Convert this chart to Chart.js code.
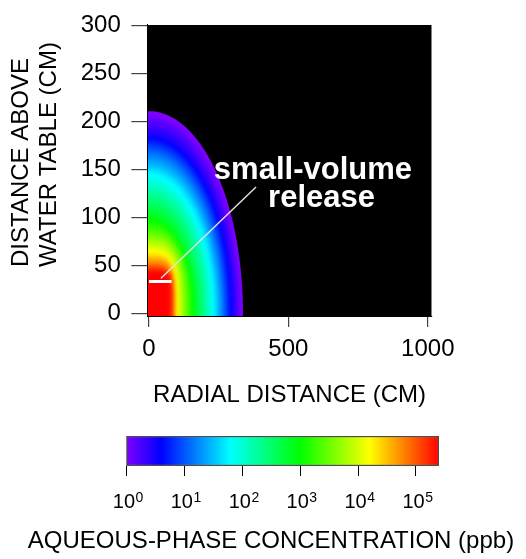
<!DOCTYPE html>
<html><head><meta charset="utf-8">
<script src="https://cdn.jsdelivr.net/npm/chart.js@4.4.1/dist/chart.umd.min.js"></script>
<style>
html,body{margin:0;padding:0;background:#fff;width:526px;height:559px;overflow:hidden}
#c1{position:absolute;left:0;top:0}
#c2{position:absolute;left:16px;top:420px}
</style></head><body>
<canvas id="c1" width="526" height="420"></canvas>
<canvas id="c2" width="510" height="139"></canvas>
<script>
// ---------- data ----------
const xTicks = [0, 500, 1000];
const yTicks = [0, 50, 100, 150, 200, 250, 300];
const xRange = [-6, 1014];
const yRange = [-2.7, 301];

// concentration bands (log10 ppb) and their extents along the radial (x) and vertical (y) axes, cm
const ringLogConc = [0.0,0.2,0.4,0.6,0.8,1.0,1.2,1.4,1.6,1.8,2.0,2.2,2.4,2.6,2.8,3.0,3.2,3.4,3.6,3.8,4.0,4.2,4.4,4.6,4.8,5.0,5.2,5.4];
const ringRadiusX = [337,326,312,298,287,277,267,257,246,236,224,212,199,187,174,162,152,142,132,122,113,105,98,92,87,83,80,77];
const ringRadiusY = [211,204,195,186,180,174,168,161,154,148,140,132,124,116,108,100,94,88,82,77,72,67,62,58,54,50,47,44];
const ringShape   = [2,2,2,2,2,2,2,2,2,2,2,2,2,2,2,2,2.2,2.4,2.6,2.8,3,3.2,3.5,3.8,4.2,4.6,5,6];

const releaseX = [0, 81];
const releaseY = [33.2, 33.2];
const leaderX = [43, 384];
const leaderY = [36.7, 131.8];
const noteLines = ['small-volume', 'release'];
const noteX = [588, 619];
const noteY = [140.0, 111.5];

const yTitleLines = ['DISTANCE ABOVE', 'WATER TABLE (CM)'];
const xTitle = 'RADIAL DISTANCE (CM)';
const cbarTitle = 'AQUEOUS-PHASE CONCENTRATION (ppb)';
const cbarTicks = [1, 10, 100, 1000, 10000, 100000];
const cbarRange = [1, 250000];

// ---------- helpers ----------
const FONT = '"Liberation Sans", Arial, Helvetica, sans-serif';
Chart.defaults.font.family = FONT;
const Lmax = Math.log10(cbarRange[1]);
function colorFor(L){
  const t = Math.max(0, Math.min(1, L / Lmax));
  return 'hsl(' + (270 * (1 - t)).toFixed(2) + ',100%,50%)';
}

function ringPath(ctx, a, cx, cy, rx, ry, p, ext){
  ctx.beginPath();
  ctx.moveTo(a.left - ext, a.bottom + ext);
  ctx.lineTo(a.left - ext, cy - ry);
  ctx.lineTo(cx, cy - ry);
  const N = 120;
  for (let k = N; k >= 0; k--){
    const t = k / N * Math.PI / 2;
    ctx.lineTo(cx + rx * Math.pow(Math.cos(t), 2 / p), cy - ry * Math.pow(Math.sin(t), 2 / p));
  }
  ctx.lineTo(cx + rx, a.bottom + ext);
  ctx.closePath();
}

const fieldPlugin = {
  id: 'field',
  beforeDraw(chart){
    const {ctx, chartArea:a, scales:{x, y}} = chart;
    ctx.save();
    ctx.beginPath(); ctx.rect(a.left, a.top, a.right - a.left, a.bottom - a.top); ctx.clip();
    ctx.fillStyle = '#000';
    ctx.fillRect(a.left, a.top, a.right - a.left, a.bottom - a.top);
    const cx = x.getPixelForValue(0), cy = y.getPixelForValue(0);
    const geo = ringLogConc.map((L, i) => ({
      rx: x.getPixelForValue(ringRadiusX[i]) - cx,
      ry: cy - y.getPixelForValue(ringRadiusY[i]),
      p: ringShape[i], c: colorFor(L)
    }));
    // outermost band: crisp edge against the black background
    ringPath(ctx, a, cx, cy, geo[0].rx, geo[0].ry, geo[0].p, 12);
    ctx.fillStyle = geo[0].c; ctx.fill();
    ctx.clip();
    ctx.filter = 'blur(2.2px)';
    for (let i = 1; i < geo.length; i++){
      ringPath(ctx, a, cx, cy, geo[i].rx, geo[i].ry, geo[i].p, 12);
      ctx.fillStyle = geo[i].c; ctx.fill();
    }
    ctx.filter = 'none';
    ctx.restore();
  }
};

const notePlugin = {
  id: 'note',
  afterDatasetsDraw(chart){
    const {ctx, scales:{x, y}} = chart;
    ctx.save();
    ctx.font = 'bold 31px ' + FONT;
    ctx.fillStyle = '#fff';
    ctx.textAlign = 'center';
    ctx.textBaseline = 'alphabetic';
    noteLines.forEach((s, i) => ctx.fillText(s, x.getPixelForValue(noteX[i]), y.getPixelForValue(noteY[i])));
    ctx.restore();
  }
};

const yTitlePlugin = {
  id: 'ytitle',
  afterDraw(chart){
    const ctx = chart.ctx;
    ctx.save();
    ctx.font = '24px ' + FONT;
    ctx.fillStyle = '#000';
    ctx.textAlign = 'left';
    ctx.textBaseline = 'middle';
    const xs = [21.7, 49], start = 267;
    yTitleLines.forEach((s, i) => {
      ctx.save(); ctx.translate(xs[i], start); ctx.rotate(-Math.PI / 2); ctx.fillText(s, 0, 0); ctx.restore();
    });
    ctx.restore();
  }
};

const cbarLabelPlugin = {
  id: 'cbarLabels',
  afterDraw(chart){
    const ctx = chart.ctx, xs = chart.scales.x;
    const baseY = 88.3;
    ctx.save();
    ctx.fillStyle = '#000';
    ctx.textBaseline = 'alphabetic';
    ctx.textAlign = 'left';
    cbarTicks.forEach(v => {
      const e = String(Math.round(Math.log10(v)));
      ctx.font = '20px ' + FONT; const w1 = ctx.measureText('10').width;
      ctx.font = '14px ' + FONT; const w2 = ctx.measureText(e).width;
      const x0 = xs.getPixelForValue(v) - (w1 + w2) / 2 + 1.5;
      ctx.font = '20px ' + FONT; ctx.fillText('10', x0, baseY);
      ctx.font = '14px ' + FONT; ctx.fillText(e, x0 + w1 + 0.5, baseY - 6.8);
    });
    ctx.restore();
  }
};

// ---------- main chart ----------
new Chart(document.getElementById('c1'), {
  type: 'scatter',
  data: { datasets: [
    { data: releaseX.map((v, i) => ({x: v, y: releaseY[i]})), showLine: true, borderColor: '#ffffff', borderWidth: 3, pointRadius: 0, borderCapStyle: 'butt' },
    { data: leaderX.map((v, i) => ({x: v, y: leaderY[i]})), showLine: true, borderColor: '#e4e4e4', borderWidth: 1.4, pointRadius: 0 }
  ]},
  options: {
    responsive: false, animation: false, devicePixelRatio: 1,
    layout: { padding: { top: 15.7, left: 0, right: 94.3, bottom: 0 } },
    plugins: { legend: { display: false }, tooltip: { enabled: false } },
    scales: {
      x: {
        type: 'linear', min: xRange[0], max: xRange[1],
        afterBuildTicks(s){ s.ticks = xTicks.map(v => ({value: v})); },
        ticks: { font: { size: 24 }, color: '#000', padding: 7.5, maxRotation: 0, autoSkip: false, callback: v => String(v) },
        grid: { drawOnChartArea: false, tickLength: 11, color: '#444', lineWidth: 1.2 },
        border: { color: '#000', width: 1 },
        title: { display: true, text: xTitle, font: { size: 24 }, color: '#000', padding: { top: 0, bottom: 10.6 } },
        afterFit(s){ s.height = 104; }
      },
      y: {
        type: 'linear', min: yRange[0], max: yRange[1],
        afterBuildTicks(s){ s.ticks = yTicks.map(v => ({value: v})); },
        ticks: { font: { size: 24 }, color: '#000', padding: 10.5, autoSkip: false, callback: v => String(v) },
        grid: { drawOnChartArea: false, tickLength: 16, color: '#444', lineWidth: 1.2 },
        border: { color: '#000', width: 1 },
        afterFit(s){ s.width = 147.3; }
      }
    }
  },
  plugins: [fieldPlugin, notePlugin, yTitlePlugin]
});

// ---------- colour bar ----------
new Chart(document.getElementById('c2'), {
  type: 'bar',
  data: { labels: [''], datasets: [{
    data: [cbarRange],
    backgroundColor: (c) => {
      const ch = c.chart; if (!ch.chartArea) return '#888';
      const xs = ch.scales.x;
      const g = ch.ctx.createLinearGradient(xs.getPixelForValue(cbarRange[0]), 0, xs.getPixelForValue(cbarRange[1]), 0);
      for (let h = 0; h <= 9; h++){ const f = h / 9; g.addColorStop(f, colorFor(f * Lmax)); }
      return g;
    },
    borderColor: 'rgba(0,0,0,0.7)', borderWidth: 1.5, borderSkipped: false,
    barPercentage: 1, categoryPercentage: 1
  }]},
  options: {
    indexAxis: 'y', responsive: false, animation: false, devicePixelRatio: 1,
    layout: { padding: { top: 16, left: 0, right: 0, bottom: 0 } },
    plugins: {
      legend: { display: false }, tooltip: { enabled: false },
      title: { display: true, position: 'bottom', text: cbarTitle, font: { size: 24, weight: 'normal' }, color: '#000', padding: { top: 0, bottom: 3 } }
    },
    scales: {
      x: {
        type: 'logarithmic', min: cbarRange[0], max: cbarRange[1],
        afterBuildTicks(s){ s.ticks = cbarTicks.map(v => ({value: v})); },
        ticks: { display: false, autoSkip: false },
        grid: { drawOnChartArea: false, tickLength: 10, color: '#000', lineWidth: 1 },
        border: { display: false },
        afterFit(s){ s.height = 61.2; }
      },
      y: { ticks: { display: false }, grid: { display: false }, border: { display: false }, afterFit(s){ s.width = 110.3; } },
      y2: { type: 'linear', position: 'right', ticks: { display: false }, grid: { display: false }, border: { display: false }, afterFit(s){ s.width = 87; } }
    }
  },
  plugins: [cbarLabelPlugin]
});
</script>
</body></html>
